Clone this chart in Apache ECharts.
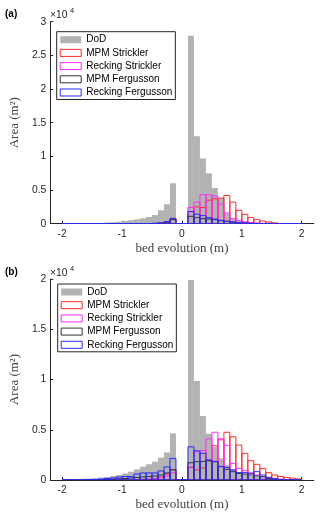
<!DOCTYPE html>
<html>
<head>
<meta charset="utf-8">
<title>bed evolution histograms</title>
<script src="https://cdn.jsdelivr.net/npm/echarts@6/dist/echarts.min.js"></script>
<style>
html, body { margin: 0; padding: 0; background: #fff; }
#chart { width: 320px; height: 520px; }
</style>
</head>
<body>
<div id="chart"></div>
<script>
// 40 bins of 0.1 m between -2 and 2
const binStart = -2;
const binWidth = 0.1;
const xTicks = [-2, -1, 0, 1, 2];

// (a) area per bin, m2
const dodA = [20, 30, 40, 50, 70, 90, 120, 160, 220, 300, 400, 500, 650, 800, 1000, 1300, 2000, 2900, 6000, 0,
  0, 27900, 13000, 9700, 7500, 5300, 3800, 1500, 700, 450, 300, 200, 150, 100, 70, 50, 30, 20, 10, 5];
const mpmStricklerA = [0, 0, 0, 0, 0, 0, 0, 0, 0, 0, 0, 0, 0, 0, 0, 0, 100, 300, 700, 0,
  0, 1800, 2500, 2400, 3500, 3700, 3800, 4200, 3200, 2000, 1400, 900, 600, 400, 250, 120, 0, 0, 0, 0];
const reckingStricklerA = [0, 0, 0, 0, 0, 0, 0, 0, 0, 0, 0, 0, 0, 0, 0, 0, 50, 300, 650, 0,
  0, 2400, 3200, 4300, 4300, 4100, 2900, 1600, 800, 500, 300, 180, 100, 50, 0, 0, 0, 0, 0, 0];
const mpmFergussonA = [0, 0, 0, 0, 0, 0, 0, 0, 0, 0, 0, 0, 0, 0, 0, 50, 100, 200, 600, 0,
  0, 1100, 900, 750, 700, 600, 450, 350, 250, 150, 100, 60, 30, 0, 0, 0, 0, 0, 0, 0];
const reckingFergussonA = [0, 0, 0, 0, 0, 0, 0, 0, 0, 0, 0, 0, 0, 0, 0, 50, 100, 300, 800, 0,
  0, 1800, 1400, 1200, 900, 700, 500, 350, 250, 150, 100, 60, 30, 0, 0, 0, 0, 0, 0, 0];

// (b)
const dodB = [60, 80, 100, 120, 150, 190, 240, 300, 400, 500, 660, 830, 1060, 1330, 1560, 1820, 2220, 2750, 4640, 0,
  0, 19900, 9850, 6370, 4600, 3300, 2150, 1500, 1100, 800, 600, 450, 350, 280, 220, 170, 130, 100, 70, 50];
const mpmStricklerB = [0, 0, 0, 0, 0, 0, 0, 0, 0, 0, 0, 0, 0, 50, 80, 150, 300, 600, 1050, 0,
  0, 1250, 1000, 1200, 1900, 3400, 4000, 4750, 4300, 3480, 2650, 1920, 1560, 1160, 730, 500, 350, 250, 180, 100];
const reckingStricklerB = [0, 0, 0, 0, 0, 0, 0, 0, 0, 0, 0, 0, 0, 0, 60, 120, 250, 400, 700, 0,
  0, 1300, 2800, 2950, 4100, 4750, 4100, 3450, 1650, 1160, 930, 700, 500, 330, 200, 120, 60, 0, 0, 0];
const mpmFergussonB = [0, 0, 0, 0, 0, 0, 0, 50, 80, 120, 150, 200, 250, 300, 350, 400, 500, 700, 1000, 0,
  0, 1720, 1820, 1850, 1920, 1820, 1330, 1060, 830, 660, 600, 500, 400, 330, 170, 80, 40, 0, 0, 0];
const reckingFergussonB = [0, 0, 0, 0, 30, 50, 100, 150, 200, 300, 350, 350, 600, 700, 700, 700, 900, 1300, 2150, 0,
  0, 3300, 2900, 2650, 2000, 1850, 1350, 1250, 1000, 730, 730, 660, 830, 500, 270, 120, 50, 0, 0, 0];

const colors = {
	dod: '#b3b3b3',
	mpmS: '#ff2a2a',
	recS: '#ff2aff',
	mpmF: '#333333',
	recF: '#2a2aff',
};

const toBins = (vals) => vals.map((v, i) => {
	const lo = +(binStart + i * binWidth).toFixed(2);
	return [lo, +(lo + binWidth).toFixed(2), v];
});

const histRender = (fill, stroke) => (params, api) => {
	const p0 = api.coord([api.value(0), api.value(2)]);
	const p1 = api.coord([api.value(1), 0]);
	return {
		type: 'rect',
		shape: { x: p0[0], y: p0[1], width: p1[0] - p0[0], height: p1[1] - p0[1] },
		style: { fill: fill, stroke: stroke || null, lineWidth: stroke ? 1 : 0 },
	};
};

const histSeries = (name, vals, idx, fill, stroke) => ({
	name: name,
	type: 'custom',
	xAxisIndex: idx,
	yAxisIndex: idx,
	clip: true,
	renderItem: histRender(fill, stroke),
	encode: { x: [0, 1], y: 2 },
	data: toBins(vals),
});

const axisColor = '#262626';
const serif = '"Liberation Serif", "Times New Roman", serif';
const sans = 'Arial, "Liberation Sans", sans-serif';

const xAxisBase = (idx) => ({
	type: 'value',
	gridIndex: idx,
	min: -2.2,
	max: 2.2,
	name: 'bed evolution (m)',
	nameLocation: 'middle',
	nameGap: 18,
	nameTextStyle: { fontFamily: serif, fontSize: 13, color: '#404040' },
	axisLine: { onZero: false, lineStyle: { color: axisColor, width: 1 } },
	axisTick: { inside: true, length: 3, customValues: xTicks, lineStyle: { color: axisColor } },
	axisLabel: { customValues: xTicks, margin: 5, fontFamily: sans, fontSize: 10.3, color: axisColor },
	splitLine: { show: false },
});

const yAxisBase = (idx, max) => ({
	type: 'value',
	gridIndex: idx,
	min: 0,
	max: max,
	interval: 5000,
	name: 'Area (m²)',
	nameLocation: 'middle',
	nameGap: 24,
	nameRotate: 90,
	nameTextStyle: { fontFamily: serif, fontSize: 13, color: '#404040' },
	axisLine: { show: true, onZero: false, lineStyle: { color: axisColor, width: 1 } },
	axisTick: { show: true, inside: true, length: 3, lineStyle: { color: axisColor } },
	axisLabel: {
		margin: 4,
		fontFamily: sans,
		fontSize: 10.3,
		color: axisColor,
		formatter: (v) => String(v / 10000),
	},
	splitLine: { show: false },
});

const legendData = [
	{ name: 'DoD', itemStyle: { color: colors.dod, borderWidth: 0 } },
	{ name: 'MPM Strickler', itemStyle: { color: '#fff', borderColor: colors.mpmS, borderWidth: 1 } },
	{ name: 'Recking Strickler', itemStyle: { color: '#fff', borderColor: colors.recS, borderWidth: 1 } },
	{ name: 'MPM Fergusson', itemStyle: { color: '#fff', borderColor: colors.mpmF, borderWidth: 1 } },
	{ name: 'Recking Fergusson', itemStyle: { color: '#fff', borderColor: colors.recF, borderWidth: 1 } },
];

const legendBase = (left, top) => ({
	orient: 'vertical',
	left: left,
	top: top,
	icon: 'rect',
	itemWidth: 21,
	itemHeight: 7,
	itemGap: 1.2,
	padding: [2, 3, 1, 3],
	borderColor: axisColor,
	borderWidth: 1,
	backgroundColor: '#fff',
	selectedMode: false,
	textStyle: { fontFamily: sans, fontSize: 10, color: '#000', lineHeight: 12 },
	data: legendData,
});

const panelText = (x, y, txt) => ({
	type: 'text',
	left: x,
	top: y,
	style: { text: txt, fontFamily: sans, fontSize: 10, fontWeight: 'bold', fill: '#000' },
});

const expText = (x, y) => ({
	type: 'group',
	left: x,
	top: y,
	children: [
		{ type: 'text', x: 0, y: 3, style: { text: '×10', fontFamily: sans, fontSize: 10.3, fill: axisColor } },
		{ type: 'text', x: 20, y: 0, style: { text: '4', fontFamily: sans, fontSize: 7.5, fill: axisColor } },
	],
});

const chart = echarts.init(document.getElementById('chart'), null, { renderer: 'canvas' });

const option = {
	animation: false,
	backgroundColor: '#fff',
	grid: [
		{ left: 49.3, top: 21.7, width: 264.4, height: 202 },
		{ left: 49.3, top: 279, width: 264.4, height: 201 },
	],
	xAxis: [xAxisBase(0), xAxisBase(1)],
	yAxis: [yAxisBase(0, 30000), yAxisBase(1, 20000)],
	legend: [legendBase(56.7, 31.7), legendBase(57.7, 284)],
	graphic: [
		panelText(5, 9, '(a)'),
		panelText(5, 267, '(b)'),
		expText(50, 7),
		expText(50, 265),
	],
	series: [
		histSeries('DoD', dodA, 0, colors.dod, null),
		histSeries('MPM Strickler', mpmStricklerA, 0, 'none', colors.mpmS),
		histSeries('Recking Strickler', reckingStricklerA, 0, 'none', colors.recS),
		histSeries('MPM Fergusson', mpmFergussonA, 0, 'none', colors.mpmF),
		histSeries('Recking Fergusson', reckingFergussonA, 0, 'none', colors.recF),
		histSeries('DoD', dodB, 1, colors.dod, null),
		histSeries('MPM Strickler', mpmStricklerB, 1, 'none', colors.mpmS),
		histSeries('Recking Strickler', reckingStricklerB, 1, 'none', colors.recS),
		histSeries('MPM Fergusson', mpmFergussonB, 1, 'none', colors.mpmF),
		histSeries('Recking Fergusson', reckingFergussonB, 1, 'none', colors.recF),
	],
};

chart.setOption(option);
</script>
</body>
</html>
